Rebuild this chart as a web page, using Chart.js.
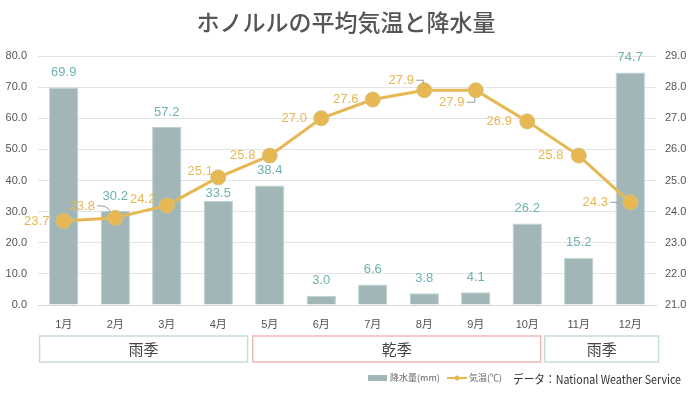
<!DOCTYPE html>
<html lang="ja">
<head>
<meta charset="utf-8">
<script src="https://cdn.jsdelivr.net/npm/chart.js@4.4.0/dist/chart.umd.min.js"></script>
<style>
  html, body { margin: 0; padding: 0; background: #fff; }
  #wrap { width: 700px; height: 394px; position: relative; }
</style>
</head>
<body>
<div id="wrap"><canvas id="chart" width="700" height="394"></canvas></div>
<script>
const months = ["1月", "2月", "3月", "4月", "5月", "6月", "7月", "8月", "9月", "10月", "11月", "12月"];
const precipitation = [69.9, 30.2, 57.2, 33.5, 38.4, 3.0, 6.6, 3.8, 4.1, 26.2, 15.2, 74.7];
const temperature = [23.7, 23.8, 24.2, 25.1, 25.8, 27.0, 27.6, 27.9, 27.9, 26.9, 25.8, 24.3];
const precipTicks = [0, 80, 10];   // min, max, step
const tempTicks = [21, 29, 1];
const seasonNames = ["雨季", "乾季", "雨季"];

const FONT = "'Liberation Sans', 'Noto Sans CJK JP', sans-serif";
const JP = "'Noto Sans CJK JP', sans-serif";
const barColor = "#a3b6b7";
const barBorder = "#bcd4d0";
const lineColor = "#e6b752";
const tealText = "#6db2af";

// label placement for the temperature values (dx, dy from point, leader style)
const tempLabelPos = [
    [-27, 0, null], [-33, -11, "curve"], [-24, -6, null], [-18, -6, null],
    [-27, 0, null], [-27, 0, null], [-27, 0, null], [-23, -10, "hookDown"],
    [-24, 12, "hookUp"], [-28, 0, null], [-28, 0, null], [-35, 0, "dash"]
];
const barLabelDy = [-15, -15, -15, -7, -15, -15, -15, -15, -15, -15, -15, -15];
// season boxes, in category index units
const seasonSpans = [[-0.47, 3.57], [3.67, 9.26], [9.34, 11.55]];
const seasonBorders = ["#c9dcd7", "#f3b8b8", "#c9dcd7"];

const decorPlugin = {
    id: "decor",
    afterDatasetsDraw(chart) {
        const ctx = chart.ctx;
        const barMeta = chart.getDatasetMeta(1);
        const lineMeta = chart.getDatasetMeta(0);
        ctx.save();
        ctx.textAlign = "center";
        ctx.textBaseline = "middle";
        ctx.font = "13px " + FONT;

        ctx.fillStyle = tealText;
        barMeta.data.forEach((bar, i) => {
            ctx.fillText(precipitation[i].toFixed(1), bar.x, bar.y + barLabelDy[i]);
        });

        lineMeta.data.forEach((pt, i) => {
            const [dx, dy, leader] = tempLabelPos[i];
            const lx = pt.x + dx, ly = pt.y + dy;
            ctx.fillStyle = lineColor;
            ctx.fillText(temperature[i].toFixed(1), lx, ly);
            if (!leader) return;
            ctx.strokeStyle = "#9a9a9a";
            ctx.lineWidth = 1;
            ctx.beginPath();
            if (leader === "curve") {
                ctx.moveTo(lx + 15, ly - 1);
                ctx.quadraticCurveTo(pt.x - 8, ly - 2, pt.x - 5, pt.y - 6);
            } else if (leader === "hookDown") {
                ctx.moveTo(lx + 15, ly);
                ctx.lineTo(pt.x - 1, ly);
                ctx.lineTo(pt.x - 1, ly + 4);
            } else if (leader === "hookUp") {
                ctx.moveTo(lx + 15, ly);
                ctx.lineTo(pt.x - 1, ly);
                ctx.lineTo(pt.x - 1, ly - 4);
            } else if (leader === "dash") {
                ctx.moveTo(lx + 15, ly);
                ctx.lineTo(lx + 22, ly);
            }
            ctx.stroke();
        });
        ctx.restore();
    },
    afterDraw(chart) {
        const ctx = chart.ctx;
        const xs = chart.scales.x;
        const slot = xs.getPixelForValue(1) - xs.getPixelForValue(0);
        const x0 = xs.getPixelForValue(0);
        ctx.save();

        // title
        ctx.textAlign = "center";
        ctx.textBaseline = "middle";
        ctx.fillStyle = "#555";
        ctx.font = "500 23px " + JP;
        ctx.fillText("ホノルルの平均気温と降水量", 346, 22);

        // season boxes
        seasonSpans.forEach(([a, b], i) => {
            const l = x0 + a * slot, r = x0 + b * slot;
            ctx.strokeStyle = seasonBorders[i];
            ctx.lineWidth = 1.5;
            ctx.strokeRect(l, 336, r - l, 26);
            ctx.fillStyle = "#444";
            ctx.font = "15px " + JP;
            ctx.fillText(seasonNames[i], (l + r) / 2, 349);
        });

        // legend
        ctx.textAlign = "left";
        ctx.fillStyle = barColor;
        ctx.fillRect(368, 375, 19, 6);
        ctx.fillStyle = "#666";
        ctx.font = "9px " + JP;
        ctx.fillText("降水量(mm)", 390, 378);
        ctx.strokeStyle = lineColor;
        ctx.lineWidth = 2;
        ctx.beginPath();
        ctx.moveTo(447, 378);
        ctx.lineTo(467, 378);
        ctx.stroke();
        ctx.fillStyle = lineColor;
        ctx.beginPath();
        ctx.arc(457, 378, 2.5, 0, Math.PI * 2);
        ctx.fill();
        ctx.fillStyle = "#666";
        ctx.fillText("気温(℃)", 469, 378);

        // source note, squeezed to the reference width
        const src = "データ：National Weather Service";
        ctx.fillStyle = "#333";
        ctx.font = "12px " + JP;
        const w = ctx.measureText(src).width;
        const sx = Math.min(1, 168 / w);
        ctx.translate(513, 379);
        ctx.scale(sx, 1);
        ctx.fillText(src, 0, 0);
        ctx.restore();
    }
};

new Chart(document.getElementById("chart"), {
    data: {
        labels: months,
        datasets: [
            {
                type: "line",
                label: "気温(℃)",
                data: temperature,
                yAxisID: "y1",
                order: 0,
                borderColor: lineColor,
                backgroundColor: lineColor,
                borderWidth: 3,
                pointRadius: 7.5,
                pointBorderColor: "#d6c47a",
                pointBorderWidth: 1,
                pointBackgroundColor: lineColor,
                tension: 0
            },
            {
                type: "bar",
                label: "降水量(mm)",
                data: precipitation,
                yAxisID: "y",
                order: 1,
                backgroundColor: barColor,
                borderColor: barBorder,
                borderWidth: 1,
                barPercentage: 0.57,
                categoryPercentage: 1
            }
        ]
    },
    options: {
        responsive: false,
        animation: false,
        layout: { padding: { top: 56, bottom: 64, left: 0, right: 0 } },
        plugins: {
            legend: { display: false },
            title: { display: false },
            tooltip: { enabled: false }
        },
        scales: {
            x: {
                grid: { display: false, drawTicks: false },
                border: { color: "#d6d6d6" },
                ticks: { padding: 13, color: "#555", font: { size: 11, family: FONT } },
                afterFit(s) { s.height = 25; }
            },
            y: {
                position: "left",
                min: precipTicks[0],
                max: precipTicks[1],
                grid: { color: "#e4e4e4", drawTicks: false },
                border: { display: false },
                ticks: {
                    stepSize: precipTicks[2],
                    padding: 11,
                    color: "#555",
                    font: { size: 11, family: FONT },
                    callback: v => v.toFixed(1)
                },
                afterFit(s) { s.width = 38; }
            },
            y1: {
                position: "right",
                min: tempTicks[0],
                max: tempTicks[1],
                grid: { display: false, drawTicks: false },
                border: { display: false },
                ticks: {
                    stepSize: tempTicks[2],
                    padding: 9,
                    color: "#555",
                    font: { size: 11, family: FONT },
                    callback: v => v.toFixed(1)
                },
                afterFit(s) { s.width = 44; }
            }
        }
    },
    plugins: [decorPlugin]
});
</script>
</body>
</html>
